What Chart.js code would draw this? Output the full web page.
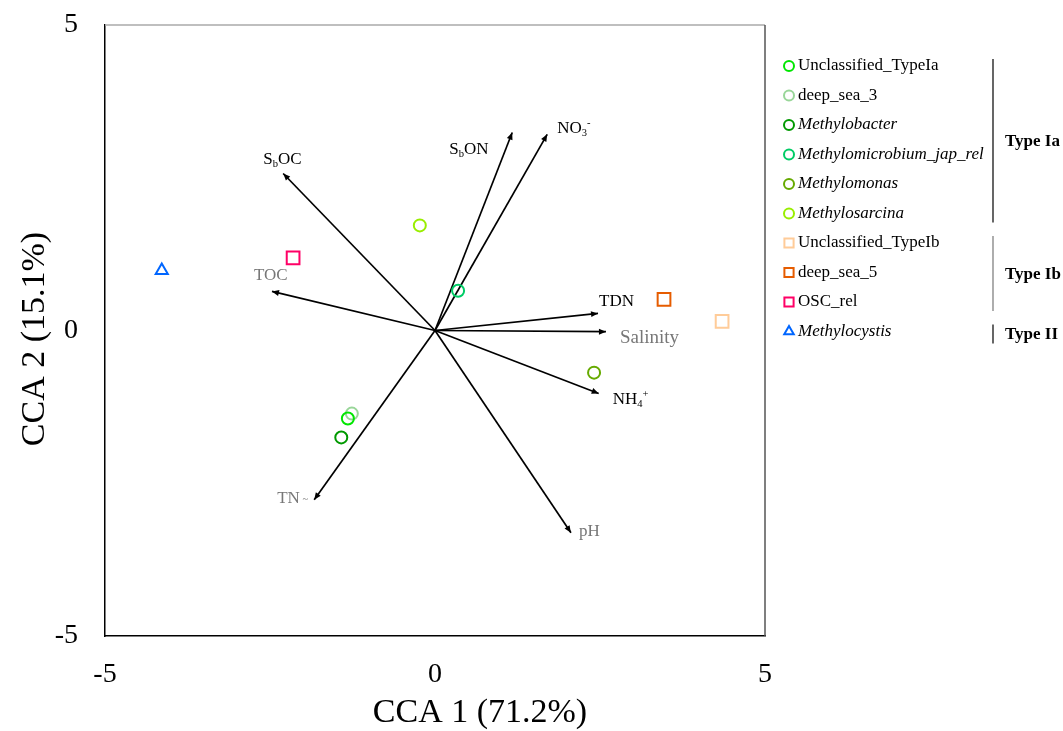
<!DOCTYPE html>
<html>
<head>
<meta charset="utf-8">
<script src="https://cdn.jsdelivr.net/npm/chart.js@4.4.0/dist/chart.umd.min.js"></script>
<style>
  html, body { margin: 0; padding: 0; background: #fff; }
  #wrap { width: 1063px; height: 731px; }
</style>
</head>
<body>
<div id="wrap"><canvas id="myChart" width="1063" height="731"></canvas></div>
<script>
// species scores
const speciesNames = ['Unclassified_TypeIa', 'deep_sea_3', 'Methylobacter', 'Methylomicrobium_jap_rel',
  'Methylomonas', 'Methylosarcina', 'Unclassified_TypeIb', 'deep_sea_5', 'OSC_rel', 'Methylocystis'];
const speciesX = [-1.32, -1.26, -1.42, 0.35, 2.41, -0.23, 4.35, 3.47, -2.15, -4.14];
const speciesY = [-1.44, -1.36, -1.75, 0.65, -0.69, 1.72, 0.15, 0.51, 1.19, 0.98];
const speciesColors = ['#00e600', '#99d699', '#009900', '#00cc66', '#66aa00', '#99ee00',
  '#ffcc99', '#e65c00', '#ff0066', '#0066ff'];
const speciesShapes = ['circle', 'circle', 'circle', 'circle', 'circle', 'circle', 'rect', 'rect', 'rect', 'triangle'];
const speciesItalic = [false, false, true, true, true, true, false, false, false, true];

// groups for legend brackets
const groupNames = ['Type Ia', 'Type Ib', 'Type II'];
const groupFirst = [0, 6, 9];
const groupLast = [5, 8, 9];

// environmental vectors
const envNames = ['SbOC', 'SbON', 'NO3-', 'TOC', 'TDN', 'Salinity', 'NH4+', 'pH', 'TN'];
const envX = [-2.30, 1.17, 1.70, -2.47, 2.47, 2.59, 2.48, 2.06, -1.83];
const envY = [2.57, 3.24, 3.21, 0.64, 0.28, -0.02, -1.03, -3.31, -2.77];

// axis titles
const xTitle = 'CCA 1 (71.2%)';
const yTitle = 'CCA 2 (15.1%)';

// how each vector label is written (sub/superscripts)
const envLabelParts = [
  [{t: 'S'}, {t: 'b', sub: true}, {t: 'OC'}],
  [{t: 'S'}, {t: 'b', sub: true}, {t: 'ON'}],
  [{t: 'NO'}, {t: '3', sub: true}, {t: '-', sup: true}],
  [{t: 'TOC'}],
  [{t: 'TDN'}],
  [{t: 'Salinity'}],
  [{t: 'NH'}, {t: '4', sub: true}, {t: '+', sup: true}],
  [{t: 'pH'}],
  [{t: 'TN'}, {t: ' ~', small: true}]
];
// label style: pixel offset from arrow tip, colour, size
const envLabelDx = [-20, -63, 10, -18, 1, 14, 14, 8, -37];
const envLabelDy = [-14, 17, -6, -16, -12, 6, 6, -1, -1];
const envLabelColor = ['#000', '#000', '#000', '#777', '#000', '#777', '#000', '#777', '#777'];
const envLabelSize = [17, 17, 17, 17, 17, 19, 17, 17, 17];

const serif = '"Liberation Serif", "Times New Roman", serif';

const datasets = [];
speciesNames.forEach((name, i) => {
  datasets.push({
    label: name,
    data: [{x: speciesX[i], y: speciesY[i]}],
    pointStyle: speciesShapes[i],
    pointRadius: speciesShapes[i] === 'rect' ? 9 : (speciesShapes[i] === 'triangle' ? 7 : 6),
    pointHoverRadius: 6,
    borderColor: speciesColors[i],
    backgroundColor: 'rgba(0,0,0,0)',
    pointBorderWidth: 2
  });
});
envNames.forEach((name, i) => {
  datasets.push({
    label: name,
    data: [{x: 0, y: 0}, {x: envX[i], y: envY[i]}],
    showLine: true,
    pointRadius: 0,
    borderColor: '#000',
    borderWidth: 1.7
  });
});

function drawRich(ctx, parts, x, y, size, color) {
  let cx = x;
  ctx.fillStyle = color;
  ctx.textBaseline = 'middle';
  ctx.textAlign = 'left';
  parts.forEach(p => {
    const s = (p.sub || p.sup || p.small) ? size * 0.62 : size;
    ctx.font = s + 'px ' + serif;
    const dy = p.sub ? size * 0.3 : (p.sup ? -size * 0.3 : 0);
    ctx.fillText(p.t, cx, y + dy);
    cx += ctx.measureText(p.t).width;
  });
}

const extras = {
  id: 'extras',
  afterDatasetsDraw(chart) {
    const ctx = chart.ctx;
    const xs = chart.scales.x, ys = chart.scales.y;
    const area = chart.chartArea;
    ctx.save();

    // top / right frame
    ctx.lineWidth = 1.5;
    ctx.strokeStyle = '#aaa';
    ctx.beginPath();
    ctx.moveTo(area.left, area.top);
    ctx.lineTo(area.right, area.top);
    ctx.stroke();
    ctx.strokeStyle = '#555';
    ctx.beginPath();
    ctx.moveTo(area.right, area.top);
    ctx.lineTo(area.right, area.bottom);
    ctx.stroke();

    // arrowheads and labels
    const ox = xs.getPixelForValue(0), oy = ys.getPixelForValue(0);
    envNames.forEach((name, i) => {
      const px = xs.getPixelForValue(envX[i]);
      const py = ys.getPixelForValue(envY[i]);
      const a = Math.atan2(py - oy, px - ox);
      ctx.fillStyle = '#000';
      ctx.beginPath();
      ctx.moveTo(px, py);
      ctx.lineTo(px - 7 * Math.cos(a) + 3 * Math.sin(a), py - 7 * Math.sin(a) - 3 * Math.cos(a));
      ctx.lineTo(px - 7 * Math.cos(a) - 3 * Math.sin(a), py - 7 * Math.sin(a) + 3 * Math.cos(a));
      ctx.closePath();
      ctx.fill();
      drawRich(ctx, envLabelParts[i], px + envLabelDx[i], py + envLabelDy[i], envLabelSize[i], envLabelColor[i]);
    });

    // axis titles (offset from the plot centre like the original)
    ctx.fillStyle = '#000';
    ctx.font = '34px ' + serif;
    ctx.textAlign = 'center';
    ctx.textBaseline = 'alphabetic';
    ctx.fillText(xTitle, 480, 722);
    ctx.save();
    ctx.translate(44, 339);
    ctx.rotate(-Math.PI / 2);
    ctx.fillText(yTitle, 0, 0);
    ctx.restore();

    // legend
    const lx = 789, ly0 = 66, step = 29.5;
    speciesNames.forEach((name, i) => {
      const y = ly0 + i * step;
      ctx.strokeStyle = speciesColors[i];
      ctx.fillStyle = 'rgba(0,0,0,0)';
      ctx.lineWidth = 2;
      const r = speciesShapes[i] === 'rect' ? 6.5 : (speciesShapes[i] === 'triangle' ? 5.5 : 5);
      Chart.helpers.drawPoint(ctx, {pointStyle: speciesShapes[i], radius: r, borderWidth: 2, rotation: 0}, lx, y);
      ctx.fillStyle = '#000';
      ctx.textAlign = 'left';
      ctx.textBaseline = 'middle';
      ctx.font = (speciesItalic[i] ? 'italic ' : '') + '17px ' + serif;
      ctx.fillText(name, 798, y);
    });
    groupNames.forEach((g, k) => {
      const y1 = ly0 + groupFirst[k] * step - 7;
      const y2 = ly0 + groupLast[k] * step + (groupFirst[k] === groupLast[k] ? 12 : 9);
      ctx.strokeStyle = k === 1 ? '#777' : '#000';
      ctx.lineWidth = 1.2;
      ctx.beginPath();
      ctx.moveTo(993, y1);
      ctx.lineTo(993, y2);
      ctx.stroke();
      ctx.fillStyle = '#000';
      ctx.font = 'bold 17px ' + serif;
      ctx.textAlign = 'left';
      ctx.textBaseline = 'middle';
      ctx.fillText(g, 1005, (y1 + y2) / 2 + 1);
    });
    ctx.restore();
  }
};

const ctx = document.getElementById('myChart').getContext('2d');
const cca = new Chart(ctx, {
  type: 'scatter',
  data: { datasets: datasets },
  options: {
    responsive: false,
    animation: false,
    layout: { padding: { top: 25, right: 298, left: 0, bottom: 0 } },
    plugins: {
      legend: { display: false },
      tooltip: { enabled: false }
    },
    scales: {
      x: {
        type: 'linear',
        min: -5, max: 5,
        afterFit: s => { s.height = 95; s.paddingLeft = 0; s.paddingRight = 0; },
        grid: { display: false, drawTicks: false },
        border: { display: true, color: '#000', width: 1.5 },
        ticks: { stepSize: 5, padding: 22, color: '#000', font: { family: serif, size: 28 } }
      },
      y: {
        type: 'linear',
        min: -5, max: 5,
        afterFit: s => { s.width = 105; s.paddingTop = 0; s.paddingBottom = 0; },
        grid: { display: false, drawTicks: false },
        border: { display: true, color: '#000', width: 1.5 },
        ticks: { stepSize: 5, padding: 27, color: '#000', font: { family: serif, size: 28 } }
      }
    }
  },
  plugins: [extras]
});
</script>
</body>
</html>
